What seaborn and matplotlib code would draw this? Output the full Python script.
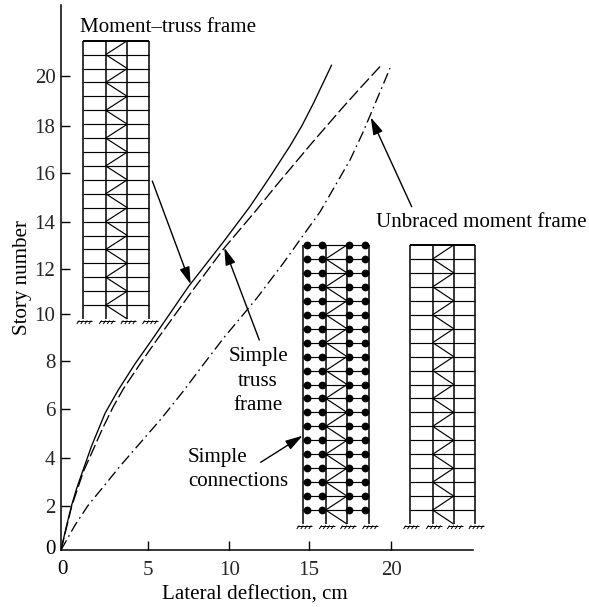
import matplotlib
matplotlib.use("Agg")
import matplotlib.pyplot as plt
import pandas as pd
import seaborn as sns

# -----------------------------
# Data
# -----------------------------
x_tick_pos = [5.25, 10.2, 15.0, 20.0]
x_tick_labels = ["5", "10", "15", "20"]
y_tick_pos = [1.87, 3.89, 5.93, 7.97, 9.94, 11.84, 13.84, 15.9, 17.9, 20.0]
y_tick_labels = ["2", "4", "6", "8", "10", "12", "14", "16", "18", "20"]

moment_truss_x = [0, 0.32, 0.65, 0.95, 1.3, 1.86, 2.67, 3.47, 4.48, 5.5, 7.72, 9.84, 11.45, 12.67, 13.88, 14.6, 15.3, 16.4]
moment_truss_y = [0, 0.98, 1.9, 2.6, 3.3, 4.4, 5.77, 6.75, 7.85, 8.86, 11.11, 13.0, 14.49, 15.75, 17.05, 17.9, 18.85, 20.46]

simple_truss_x = [0, 0.65, 1.35, 1.96, 2.52, 3.17, 3.78, 4.79, 5.8, 7.92, 9.88, 11.86, 13.07, 14.08, 15.19, 17.01, 18.12, 19.23, 19.47]
simple_truss_y = [0, 1.85, 3.3, 4.25, 5.13, 6.05, 6.8, 7.85, 8.86, 10.9, 12.73, 14.36, 15.4, 16.24, 17.16, 18.62, 19.48, 20.32, 20.5]

unbraced_x = [0, 0.85, 1.66, 2.57, 3.58, 4.69, 6.1, 7.41, 8.6, 9.84, 11.86, 13.47, 15.7, 16.7, 17.52, 18.32, 19.13, 19.94]
unbraced_y = [0, 1.05, 1.9, 2.67, 3.54, 4.43, 5.56, 6.7, 7.8, 8.93, 10.62, 12.1, 14.27, 15.47, 16.46, 17.65, 18.99, 20.33]

# frame columns and dots in picture pixels
frame_left_cols = [83.3, 105.7, 127.3, 149.0]
frame_mid_cols = [303.3, 325.7, 347.0, 369.0]
frame_right_cols = [410.0, 432.7, 453.7, 475.3]
frame_mid_dots = [306.7, 322.0, 349.3, 365.3]

PX_PER_CM = 16.5
PX_PER_STORY = 23.7
X0, Y0 = 61, 550
W, H = 589, 607
RIGHT, TOP = 473, 5
LW = 0.85
FONT = 15.1


def dx(p):
    return (p - X0) / PX_PER_CM


def dy(p):
    return (Y0 - p) / PX_PER_STORY


def seg(ax, x1, y1, x2, y2, lw=LW):
    ax.plot([dx(x1), dx(x2)], [dy(y1), dy(y2)], color="black", lw=lw,
            clip_on=False, solid_capstyle="butt")


def draw_frame(ax, cols, top, base, dots=None):
    """Draw a 20 story braced frame with pinned feet."""
    step = (base - top) / 20
    for c in cols:
        seg(ax, c, top, c, base, lw=1.1)
        # ground hatch below the column
        seg(ax, c - 6, base + 1.5, c + 9, base + 1.5, lw=0.7)
        for off in (-4, 0, 4, 8):
            seg(ax, c + off, base + 1.5, c + off - 2.5, base + 5, lw=0.7)
    for k in range(20):
        y = top + k * step
        seg(ax, cols[0], y, cols[3], y, lw=1.4 if (k == 0 and dots is None) else LW)
        # zigzag bracing in the middle bay
        a, b = (cols[2], cols[1]) if k % 2 == 0 else (cols[1], cols[2])
        seg(ax, a, y, b, y + step)
        if dots:
            for d in dots:
                ax.plot(dx(d), dy(y), "o", color="black", ms=5.6, mew=0, clip_on=False)


sns.set_theme(style="white")
plt.rcParams["font.family"] = ["Liberation Serif", "DejaVu Serif"]
plt.rcParams["lines.scale_dashes"] = False

fig = plt.figure(figsize=(W / 100, H / 100), dpi=100)
ax = fig.add_axes([X0 / W, 1 - Y0 / H, (RIGHT - X0) / W, (Y0 - TOP) / H])

curves = [
    (moment_truss_x, moment_truss_y, "-"),
    (simple_truss_x, simple_truss_y, (0, (9, 2.8))),
    (unbraced_x, unbraced_y, (0, (8, 3, 1.2, 3))),
]
for xs, ys, style in curves:
    df = pd.DataFrame({"deflection": xs, "story": ys})
    sns.lineplot(data=df, x="deflection", y="story", ax=ax, sort=False,
                 color="black", lw=0.95, linestyle=style, errorbar=None)

ax.set_xlim(0, (RIGHT - X0) / PX_PER_CM)
ax.set_ylim(0, (Y0 - TOP) / PX_PER_STORY)
ax.set_xticks(x_tick_pos, x_tick_labels)
ax.set_yticks(y_tick_pos, y_tick_labels)
ax.tick_params(direction="in", length=6.5, width=1.0, labelsize=FONT, color="black",
               left=True, bottom=True, pad=4)
ax.tick_params(axis="x", pad=8)
ax.set_xlabel("")
ax.set_ylabel("")
sns.despine(ax=ax)
for s in ("left", "bottom"):
    ax.spines[s].set_color("black")
    ax.spines[s].set_linewidth(1.1)

draw_frame(ax, frame_left_cols, 40.7, 319)
draw_frame(ax, frame_mid_cols, 245, 524, dots=frame_mid_dots)
draw_frame(ax, frame_right_cols, 245, 524)


def arrow(x1, y1, x2, y2):
    ax.annotate("", xy=(dx(x2), dy(y2)), xytext=(dx(x1), dy(y1)), annotation_clip=False,
                arrowprops=dict(arrowstyle="-|>,head_length=0.75,head_width=0.22",
                                color="black", lw=1.0, shrinkA=0, shrinkB=0,
                                mutation_scale=14))


arrow(152.3, 181, 190.7, 284.3)
arrow(259.3, 340, 224.3, 247.7)
arrow(411.7, 206.7, 370.7, 117.3)
arrow(260.7, 462.3, 302.7, 435.7)


def label(x, y, s, ha="left", **kw):
    ax.text(dx(x), dy(y), s, ha=ha, va="baseline", fontsize=FONT, color="black",
            clip_on=False, **kw)


label(80, 32, "Moment\u2013truss frame")
label(376, 227, "Unbraced moment frame")
label(258, 361, "Simple", ha="center")
label(258, 386, "truss", ha="center")
label(258, 410, "frame", ha="center")
label(188, 462, "Simple")
label(188, 486, "connections")
label(255, 600, "Lateral deflection, cm", ha="center")
label(27, 335, "Story number", rotation=90, rotation_mode="anchor")

# the shared origin labels sit outside the tick lists
label(50, 554, "0", ha="center")
label(62, 574, "0", ha="center")

fig.savefig("out.png", dpi=100)
plt.close(fig)
